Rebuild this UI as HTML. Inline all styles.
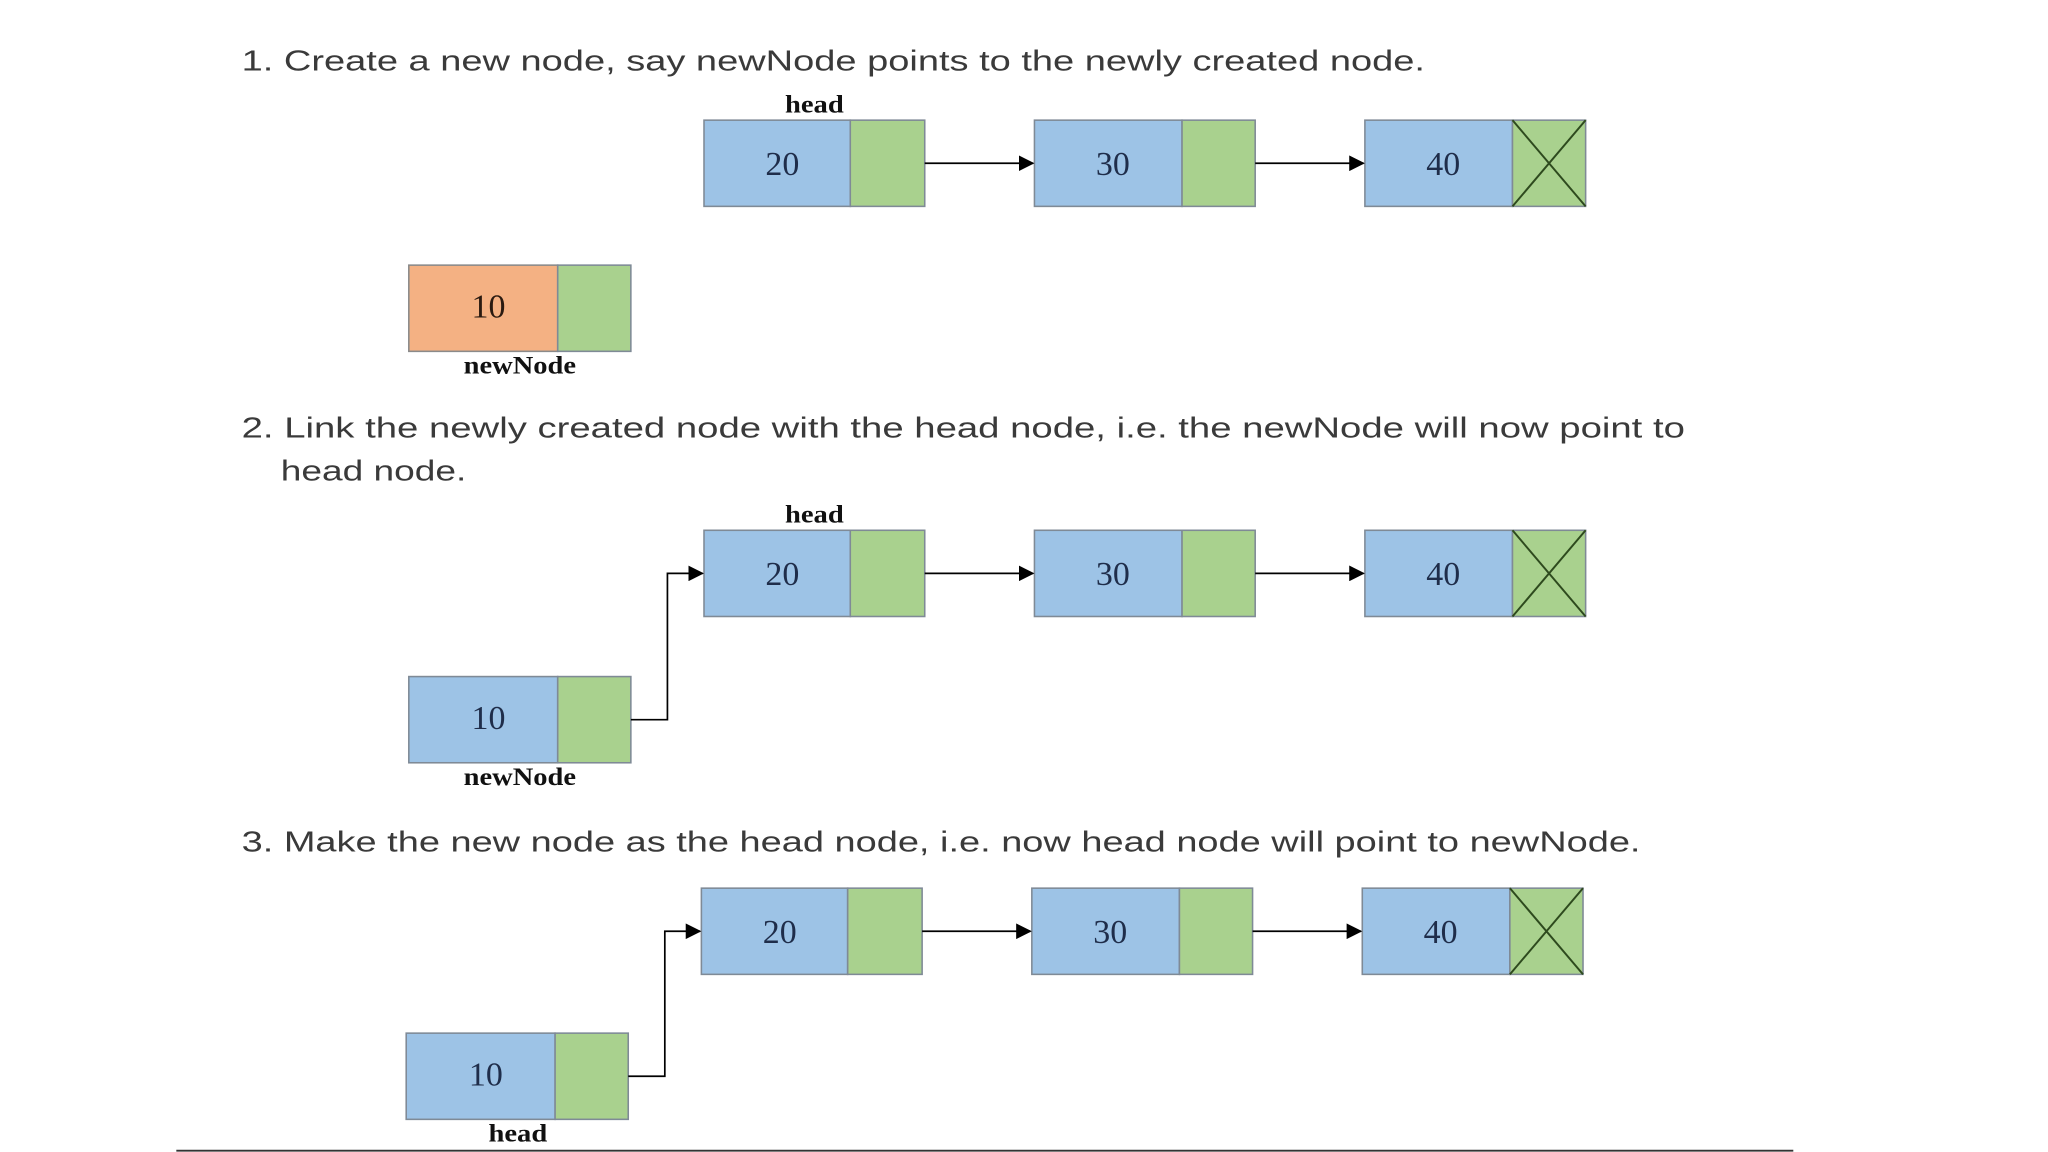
<!DOCTYPE html>
<html><head><meta charset="utf-8"><style>
html,body{margin:0;padding:0;background:#fff;}
svg{display:block;}
.t{font-family:"Liberation Sans",sans-serif;font-size:22px;fill:#3a3a3a;}
.l{font-family:"Liberation Serif",serif;font-size:19px;font-weight:bold;fill:#111;}
.n{font-family:"Liberation Serif",serif;font-size:26px;fill:#1f2d4a;}
.b{fill:#9dc3e6;stroke:#7f8a96;stroke-width:1.2;}
.g{fill:#a9d18e;stroke:#7f8a96;stroke-width:1.2;}
.o{fill:#f4b183;stroke:#8a8a8a;stroke-width:1.2;}
</style></head><body>
<svg width="2048" height="1152" viewBox="0 0 1568 882" preserveAspectRatio="none" xmlns="http://www.w3.org/2000/svg">
<defs><marker id="a" markerWidth="12" markerHeight="12" refX="11" refY="6" orient="auto" markerUnits="userSpaceOnUse"><path d="M0,0 L12,6 L0,12z" fill="#000"/></marker></defs>
<text class="t" x="185" y="54" textLength="906" lengthAdjust="spacingAndGlyphs">1. Create a new node, say newNode points to the newly created node.</text>
<text class="l" x="601" y="86" textLength="45" lengthAdjust="spacingAndGlyphs">head</text>
<g id="row1">
<rect class="b" x="539" y="92" width="112" height="66"/><rect class="g" x="651" y="92" width="57" height="66"/>
<text class="n" x="599" y="134" text-anchor="middle">20</text>
<rect class="b" x="792" y="92" width="113" height="66"/><rect class="g" x="905" y="92" width="56" height="66"/>
<text class="n" x="852" y="134" text-anchor="middle">30</text>
<rect class="b" x="1045" y="92" width="113" height="66"/><rect class="g" x="1158" y="92" width="56" height="66"/>
<path d="M1158,92 L1214,158 M1214,92 L1158,158" stroke="#2e4a1e" stroke-width="1.5"/>
<text class="n" x="1105" y="134" text-anchor="middle">40</text>
<path d="M708,125 H791" stroke="#000" stroke-width="1.3" marker-end="url(#a)"/>
<path d="M961,125 H1044" stroke="#000" stroke-width="1.3" marker-end="url(#a)"/>
</g>
<rect class="o" x="313" y="203" width="114" height="66"/><rect class="g" x="427" y="203" width="56" height="66"/>
<text class="n" x="374" y="243" text-anchor="middle" style="fill:#2a1a10">10</text>
<text class="l" x="355" y="286" textLength="86" lengthAdjust="spacingAndGlyphs">newNode</text>

<text class="t" x="185" y="335" textLength="1105" lengthAdjust="spacingAndGlyphs">2. Link the newly created node with the head node, i.e. the newNode will now point to</text>
<text class="t" x="215" y="368" textLength="142" lengthAdjust="spacingAndGlyphs">head node.</text>
<text class="l" x="601" y="400" textLength="45" lengthAdjust="spacingAndGlyphs">head</text>
<use href="#row1" y="314"/>
<rect class="b" x="313" y="518" width="114" height="66"/><rect class="g" x="427" y="518" width="56" height="66"/>
<text class="n" x="374" y="558" text-anchor="middle">10</text>
<path d="M483,551 H511 V439 H538" fill="none" stroke="#000" stroke-width="1.3" marker-end="url(#a)"/>
<text class="l" x="355" y="601" textLength="86" lengthAdjust="spacingAndGlyphs">newNode</text>

<text class="t" x="185" y="652" textLength="1071" lengthAdjust="spacingAndGlyphs">3. Make the new node as the head node, i.e. now head node will point to newNode.</text>
<use href="#row1" x="-2" y="588"/>
<rect class="b" x="311" y="791" width="114" height="66"/><rect class="g" x="425" y="791" width="56" height="66"/>
<text class="n" x="372" y="831" text-anchor="middle">10</text>
<path d="M481,824 H509 V713 H536" fill="none" stroke="#000" stroke-width="1.3" marker-end="url(#a)"/>
<text class="l" x="374" y="874" textLength="45" lengthAdjust="spacingAndGlyphs">head</text>
<line x1="135" y1="881" x2="1373" y2="881" stroke="#333" stroke-width="1.5"/>
</svg>
</body></html>
